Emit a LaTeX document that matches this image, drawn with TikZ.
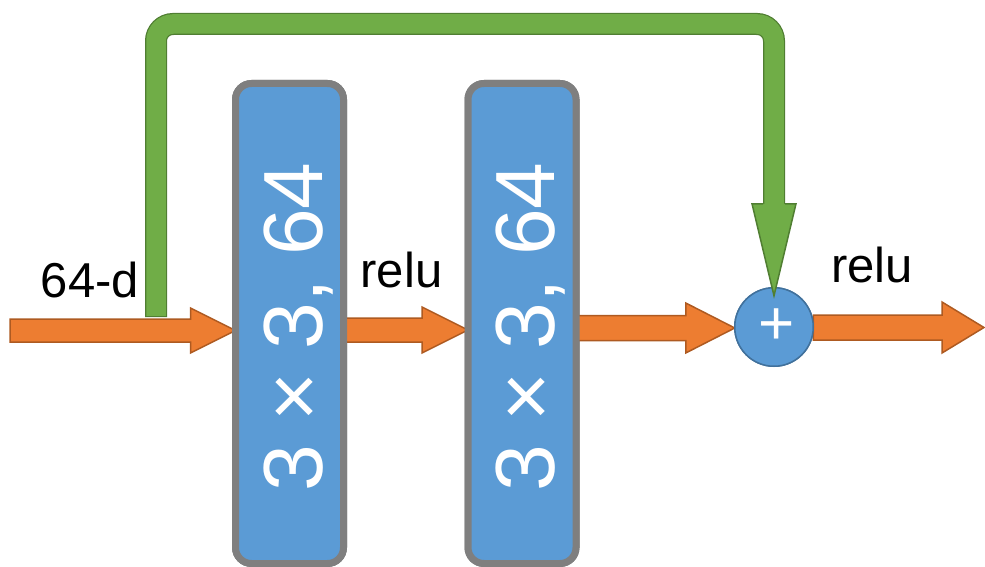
\documentclass[tikz,border=0pt]{standalone}
\usepackage{fontspec}
\setmainfont{Liberation Sans}
\usetikzlibrary{calc}

\definecolor{convfill}{HTML}{5B9BD5}
\definecolor{convedge}{HTML}{7F7F7F}
\definecolor{flowfill}{HTML}{ED7D31}
\definecolor{flowedge}{HTML}{AE5A21}
\definecolor{skipfill}{HTML}{70AD47}
\definecolor{skipedge}{HTML}{507E32}
\definecolor{sumedge}{HTML}{41719C}

\tikzset{
  convbox/.style={draw=convedge, fill=convfill, line width=7pt,
    rounded corners=16pt, inner sep=0pt, outer sep=0pt,
    minimum width=108pt, minimum height=480pt},
  convtext/.style={text=white, rotate=90, anchor=base, inner sep=0pt,
    font=\fontsize{84}{84}\selectfont},
  flowarrow/.style={fill=flowfill, draw=flowedge, line width=1.5pt, line join=miter},
  dimlabel/.style={text=black, anchor=base, inner sep=0pt,
    font=\fontsize{49}{49}\selectfont},
  sumnode/.style={circle, draw=sumedge, fill=convfill, line width=1.5pt,
    minimum size=78.5pt, inner sep=0pt, outer sep=0pt, text=white,
    font=\fontsize{62}{62}\selectfont},
  skipedgeline/.style={draw=skipedge, line width=22pt, rounded corners=17pt},
  skipfillline/.style={draw=skipfill, line width=19.5pt, rounded corners=17pt},
  skiphead/.style={fill=skipfill, draw=skipedge, line width=1.5pt, line join=miter},
}

% block arrow: start point, end point, shaft half height, head half height, head length
\newcommand\blockarrow[5]{%
  \filldraw[flowarrow] let \p1=#1, \p2=#2 in
    (\x1,\y1+#3) -- (\x2-#5,\y1+#3) -- (\x2-#5,\y1+#4) -- (\x2,\y1)
    -- (\x2-#5,\y1-#4) -- (\x2-#5,\y1-#3) -- (\x1,\y1-#3) -- cycle;}

\begin{document}
\begin{tikzpicture}[x=1pt, y=-1pt]
  \useasboundingbox (0,0) rectangle (985,567);

  % named positions
  \coordinate (in) at (10,330.5);
  \coordinate (out) at (984,327.5);
  \coordinate (split) at (156,317);

  % the two convolution layers (placed first so the arrows can refer to them)
  \path (289.5,323.5) node[convbox] (b1) {};
  \path (522,323.5) node[convbox] (b2) {};
  \path (774,327) node[sumnode] (sum) {};

  % main data flow
  \blockarrow{(in)}{(b1.west)}{11.5pt}{22.5pt}{45pt}
  \blockarrow{([yshift=-6.5pt]b1.east)}{(b2.west)}{12pt}{23pt}{46pt}
  \blockarrow{([yshift=-4.5pt]b2.east)}{(sum.west)}{12.5pt}{25pt}{49pt}
  \blockarrow{([yshift=-0.5pt]sum.east)}{(out)}{12.5pt}{25.5pt}{42pt}

  % layers drawn over the arrow ends
  \node[convbox] (c1) at (b1) {};
  \node[convbox] (c2) at (b2) {};
  \node[convtext] (t1) at (322,327) {3 × 3, 64};
  \node[convtext] (t2) at (554.5,327) {3 × 3, 64};

  % labels
  \node[dimlabel] (l0) at (90,297) {64-d};
  \node[dimlabel] (l1) at (401.5,287) {relu};
  \node[dimlabel] (l2) at (872,282) {relu};

  % addition node
  \node[sumnode] (add) at (sum) {\hspace{5pt}+};

  % identity shortcut
  \draw[skipedgeline] let \p1=(split), \p2=(add.north) in
    (\x1,\y1) -- (\x1,-24pt) -- (\x2,-24pt) -- (\x2,\y2+84pt);
  \draw[skipfillline] let \p1=(split), \p2=(add.north) in
    (\x1,\y1+1.25pt) -- (\x1,-24pt) -- (\x2,-24pt) -- (\x2,\y2+84pt);
  \filldraw[skiphead] let \p2=(add.north) in
    (\x2-11pt,\y2+84pt) -- (\x2-22pt,\y2+84pt) -- (\x2,\y2-8pt)
    -- (\x2+22pt,\y2+84pt) -- (\x2+11pt,\y2+84pt);
\end{tikzpicture}
\end{document}
